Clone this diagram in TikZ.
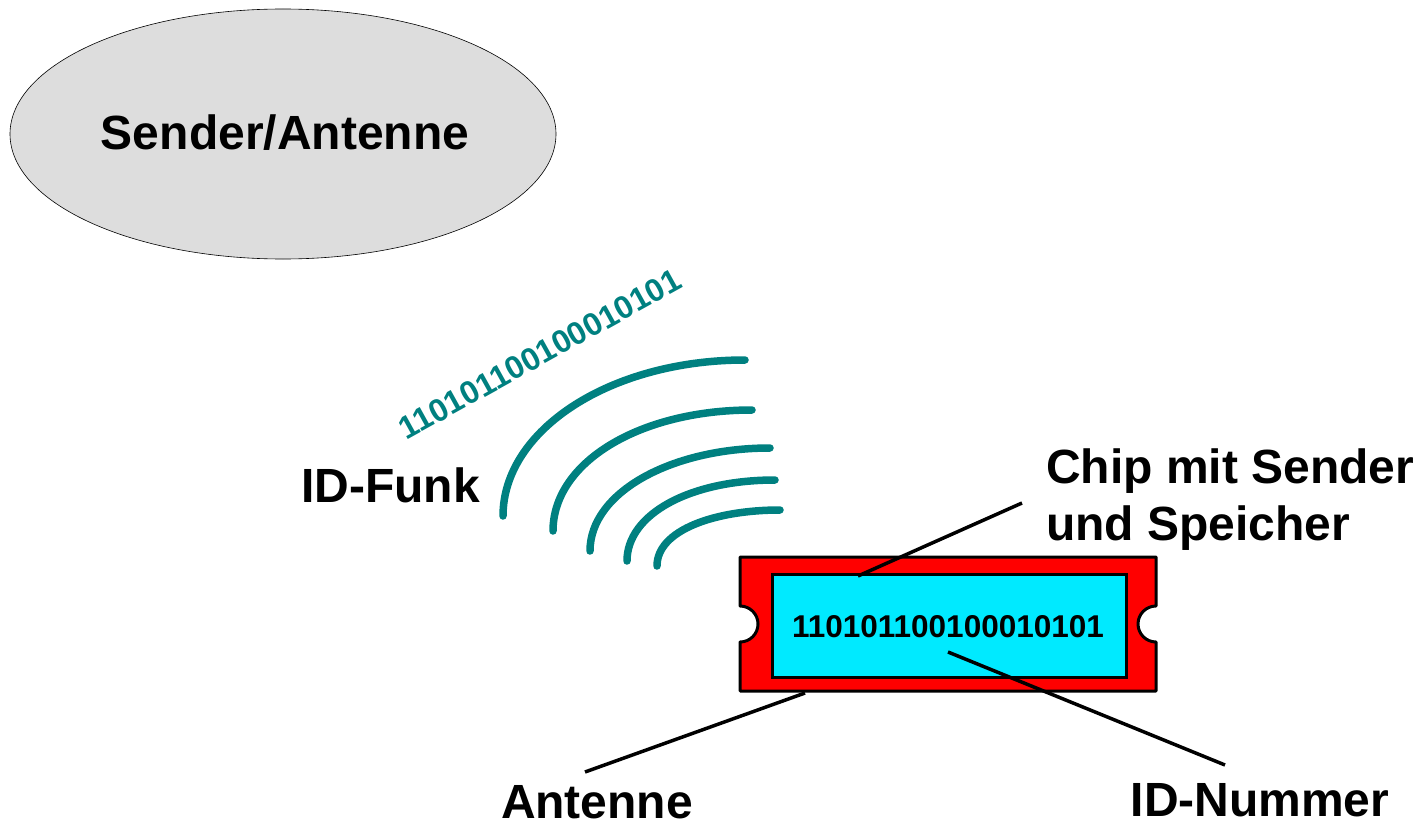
\documentclass[tikz,border=0pt]{standalone}
\usepackage{fontspec}
\setmainfont{Liberation Sans}
\usetikzlibrary{shapes.geometric}
\definecolor{wave}{RGB}{0,128,128}
\definecolor{chipred}{RGB}{255,0,0}
\definecolor{chipcyan}{RGB}{0,234,255}
\definecolor{ellgray}{RGB}{221,221,221}
\tikzset{
  big/.style={font=\fontsize{48}{57}\selectfont\bfseries, inner sep=0pt},
  wavearc/.style={draw=wave, line width=7.5pt, line cap=round},
  pointer/.style={draw=black, line width=3.5pt},
}
\begin{document}
\begin{tikzpicture}[x=1pt,y=-1pt]
\useasboundingbox (0,0) rectangle (1420,824);
% sender ellipse
\node[ellipse, draw=black, line width=0.6pt, fill=ellgray, minimum width=546pt, minimum height=250pt, inner sep=0pt] (sender) at (283,134) {};
\node[big] (sendertext) at (285,133) {Sender/Antenne};
% waves
\coordinate (a1s) at (503,516); \coordinate (a1e) at (745,360);
\coordinate (a2s) at (553,531); \coordinate (a2e) at (752,410);
\coordinate (a3s) at (590,551); \coordinate (a3e) at (770,448);
\coordinate (a4s) at (627,561); \coordinate (a4e) at (775,480);
\coordinate (a5s) at (657,566); \coordinate (a5e) at (780,510);
\draw[wavearc] (a1s) .. controls (503,430) and (610,360) .. (a1e);
\draw[wavearc] (a2s) .. controls (553,462) and (640,410) .. (a2e);
\draw[wavearc] (a3s) .. controls (590,492) and (672,448) .. (a3e);
\draw[wavearc] (a4s) .. controls (627,514) and (690,480) .. (a4e);
\draw[wavearc] (a5s) .. controls (657,530) and (715,510) .. (a5e);
\node[font=\fontsize{32}{36}\selectfont\bfseries, text=wave, rotate=29, inner sep=0pt] (bits) at (540,354) {110101100100010101};
\node[big, anchor=base east] (funk) at (480,502) {ID-Funk};
% chip
\draw[fill=chipred, draw=black, line width=3pt, line join=round]
  (740,557) -- (1156,557) -- (1156,606)
  arc[start angle=90, end angle=270, radius=18pt]
  -- (1156,691) -- (740,691) -- (740,642)
  arc[start angle=-90, end angle=90, radius=18pt] -- cycle;
\node[draw=black, line width=3pt, fill=chipcyan, minimum width=354pt, minimum height=103pt, inner sep=0pt] (chip) at (949,625.5) {};
\node[font=\fontsize{31.5}{36}\selectfont\bfseries, inner sep=0pt] (id) at (948,627) {110101100100010101};
% labels
\node[big, anchor=base west, align=left] (chiplabel) at (1046,540) {Chip mit Sender\\und Speicher};
\node[big] (antlabel) at (597,802) {Antenne};
\node[big] (idlabel) at (1260,800) {ID-Nummer};
% pointers
\coordinate (p1) at (858,576); \coordinate (p1e) at (1022,503);
\coordinate (p2) at (948,652); \coordinate (p2e) at (1225,765);
\coordinate (p3) at (805,693); \coordinate (p3e) at (585,772);
\draw[pointer] (p1) -- (p1e);
\draw[pointer] (p2) -- (p2e);
\draw[pointer] (p3) -- (p3e);
\end{tikzpicture}
\end{document}
